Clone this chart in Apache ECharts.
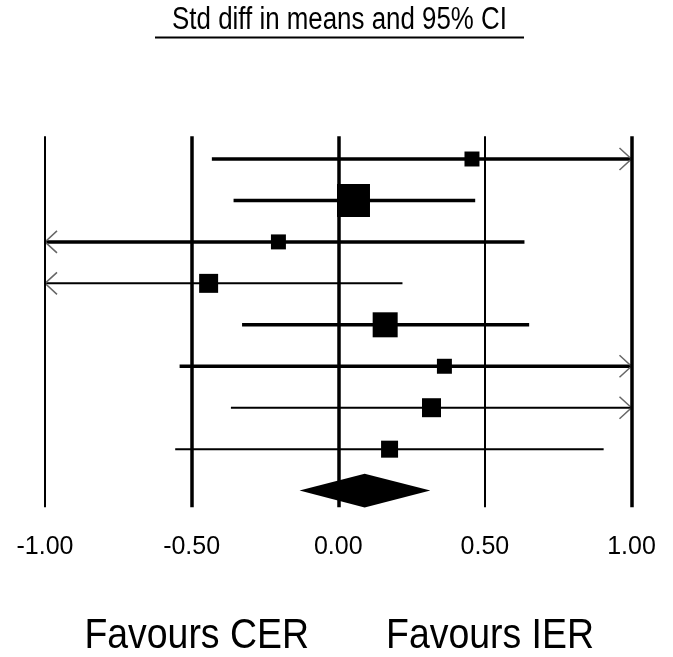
<!DOCTYPE html>
<html>
<head>
<meta charset="utf-8">
<script src="https://cdn.jsdelivr.net/npm/echarts@6/dist/echarts.min.js"></script>
<style>
html,body{margin:0;padding:0;background:#fff;}
#chart{width:673px;height:657px;}
</style>
</head>
<body>
<div id="chart"></div>
<script>
// ---- data ----
const studies = ['Study 1','Study 2','Study 3','Study 4','Study 5','Study 6','Study 7','Study 8'];
const means  = [0.456, 0.052, -0.204, -0.442, 0.160, 0.362, 0.318, 0.175];
const lowers = [-0.431, -0.357, -1.043, -1.103, -0.328, -0.541, -0.366, -0.556];
const uppers = [1.343, 0.467, 0.635, 0.219, 0.651, 1.265, 1.010, 0.905];
const weights = [6.6, 32.0, 6.6, 10.6, 18.4, 6.6, 10.6, 8.5];
const summaryMean = [0.090];
const summaryLower = [-0.132];
const summaryUpper = [0.314];
const tickValues = [-1, -0.5, 0, 0.5, 1];
const titleText = 'Std diff in means and 95% CI';
const leftLabel = 'Favours CER';
const rightLabel = 'Favours IER';

// ---- styles ----
const rowLineWidths = [3.5, 3.5, 3.5, 2, 3.5, 3.5, 2, 2];
const refLineWidths = [2, 3.5, 3.5, 2, 3.5];
const sansFont = "'Liberation Sans',Arial,sans-serif";
const AXMIN = -1, AXMAX = 1;

const chart = echarts.init(document.getElementById('chart'), null, {renderer: 'canvas'});

function chevron(x, y, dir) {
  // dir = +1 right, -1 left
  return {
    type: 'polyline',
    shape: { points: [[x - dir * 12, y - 11], [x, y], [x - dir * 12, y + 11]] },
    style: { stroke: '#666', lineWidth: 1.5, fill: null }
  };
}

const studyData = studies.map((s, i) => [i, means[i], lowers[i], uppers[i], weights[i]]);
const summaryData = summaryMean.map((m, i) => [studies.length, m, summaryLower[i], summaryUpper[i]]);

chart.setOption({
  animation: false,
  backgroundColor: '#fff',
  grid: { left: 45, right: 41.5, top: 136.2, height: 371 },
  xAxis: {
    type: 'value', min: AXMIN, max: AXMAX, interval: 0.5,
    axisLine: { show: false }, axisTick: { show: false }, splitLine: { show: false },
    axisLabel: {
      formatter: v => v.toFixed(2), color: '#000', fontSize: 25,
      fontFamily: sansFont, margin: 27
    }
  },
  yAxis: {
    type: 'value', min: -0.55, max: 8.4, inverse: true, show: false
  },
  graphic: [
    { type: 'text', x: 339.5, y: 20, scaleX: 0.835, style: { text: titleText, font: "31px " + sansFont, fill: '#000', align: 'center', verticalAlign: 'middle' } },
    { type: 'line', shape: { x1: 155, y1: 37.5, x2: 524, y2: 37.5 }, style: { stroke: '#000', lineWidth: 2 } },
    { type: 'text', x: 196.7, y: 636, scaleX: 0.87, style: { text: leftLabel, font: "43px " + sansFont, fill: '#000', align: 'center', verticalAlign: 'middle' } },
    { type: 'text', x: 490, y: 636, scaleX: 0.87, style: { text: rightLabel, font: "43px " + sansFont, fill: '#000', align: 'center', verticalAlign: 'middle' } }
  ],
  series: [
    {
      type: 'custom',
      name: 'studies',
      clip: false,
      data: studyData,
      encode: { x: [1, 2, 3], y: 0 },
      renderItem: function (params, api) {
        const row = api.value(0), m = api.value(1), lo = api.value(2), hi = api.value(3), w = api.value(4);
        const y = api.coord([0, row])[1];
        const xl = api.coord([Math.max(lo, AXMIN), row])[0];
        const xh = api.coord([Math.min(hi, AXMAX), row])[0];
        const xm = api.coord([m, row])[0];
        const side = Math.sqrt(w) * 5.83;
        const children = [
          { type: 'line', shape: { x1: xl, y1: y, x2: xh, y2: y }, style: { stroke: '#000', lineWidth: rowLineWidths[params.dataIndex] } },
          { type: 'rect', shape: { x: xm - side / 2, y: y - side / 2, width: side, height: side }, style: { fill: '#000' } }
        ];
        if (lo < AXMIN) children.push(chevron(xl, y, -1));
        if (hi > AXMAX) children.push(chevron(xh, y, 1));
        return { type: 'group', children: children };
      },
      markLine: {
        silent: true,
        symbol: ['none', 'none'],
        label: { show: false },
        animation: false,
        data: tickValues.map((v, i) => ({ xAxis: v, lineStyle: { color: '#000', width: refLineWidths[i], type: 'solid' } }))
      },
      z: 3
    },
    {
      type: 'custom',
      name: 'summary',
      clip: false,
      data: summaryData,
      encode: { x: [1, 2, 3], y: 0 },
      renderItem: function (params, api) {
        const row = api.value(0), m = api.value(1), lo = api.value(2), hi = api.value(3);
        const y = api.coord([0, row])[1];
        const xl = api.coord([lo, row])[0];
        const xh = api.coord([hi, row])[0];
        const xm = api.coord([m, row])[0];
        const h = 16.8;
        return {
          type: 'polygon',
          shape: { points: [[xl, y], [xm, y - h], [xh, y], [xm, y + h]] },
          style: { fill: '#000' }
        };
      },
      z: 3
    }
  ]
});
</script>
</body>
</html>
